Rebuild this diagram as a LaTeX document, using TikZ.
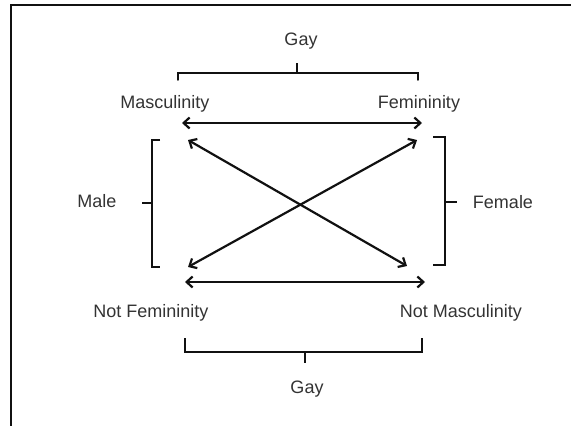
\documentclass[tikz,border=0pt]{standalone}
\usepackage{fontspec}
\setsansfont{Liberation Sans}
\usepackage{tikz}
\usetikzlibrary{arrows.meta,positioning,calc}
\definecolor{inkdark}{HTML}{111111}
\definecolor{labelgray}{HTML}{333333}
\tikzset{
  lbl/.style={anchor=base, inner sep=0pt, font=\sffamily\fontsize{18}{20}\selectfont,
    text=labelgray},
  link/.style={{Straight Barb[length=6pt,width=11pt]}-{Straight Barb[length=6pt,width=11pt]},
    line width=2.2pt, color=inkdark},
  bracket/.style={line width=1.5pt, color=inkdark},
  frameline/.style={line width=1.5pt, color=inkdark},
}
\begin{document}
\begin{tikzpicture}[x=1pt,y=-1pt]
  \useasboundingbox (0,0) rectangle (571,426);
  % frame
  \draw[frameline] (11,440) -- (11,5) -- (590,5);
  % labels
  \node[lbl] (gaytop) at (301,45) {Gay};
  \node[lbl] (masc) at (165,108) {Masculinity};
  \node[lbl] (fem) at (419,108) {Femininity};
  \node[lbl] (male) at (97,207) {Male};
  \node[lbl] (female) at (503,208) {Female};
  \node[lbl] (nfem) at (151,317) {Not Femininity};
  \node[lbl] (nmasc) at (461,317) {Not Masculinity};
  \node[lbl] (gaybot) at (307,393) {Gay};
  % arrow ends
  \coordinate (mascA) at (182,123);
  \coordinate (femA) at (422,123);
  \coordinate (mascX) at (188,140);
  \coordinate (femX) at (417,140);
  \coordinate (nfemX) at (188,267);
  \coordinate (nmascX) at (407,266);
  \coordinate (nfemA) at (185,282);
  \coordinate (nmascA) at (425,282);
  \draw[link] (mascA) -- (femA);
  \draw[link] (mascX) -- (nmascX);
  \draw[link] (nfemX) -- (femX);
  \draw[link] (nfemA) -- (nmascA);
  % braces
  \draw[bracket, line cap=round] (178,80) -- (178,73) -- (418,73) -- (418,80);
  \draw[bracket] (297,73) -- (297,63);
  \draw[bracket, line width=2pt] (185,338) -- (185,352) -- (422,352) -- (422,338);
  \draw[bracket, line width=2pt] (305,352) -- (305,363);
  \draw[bracket] (160,140) -- (152,140) -- (152,267) -- (160,267);
  \draw[bracket] (152,203) -- (142,203);
  \draw[bracket] (433,137) -- (445,137) -- (445,265) -- (433,265);
  \draw[bracket] (445,202) -- (457,202);
\end{tikzpicture}
\end{document}
